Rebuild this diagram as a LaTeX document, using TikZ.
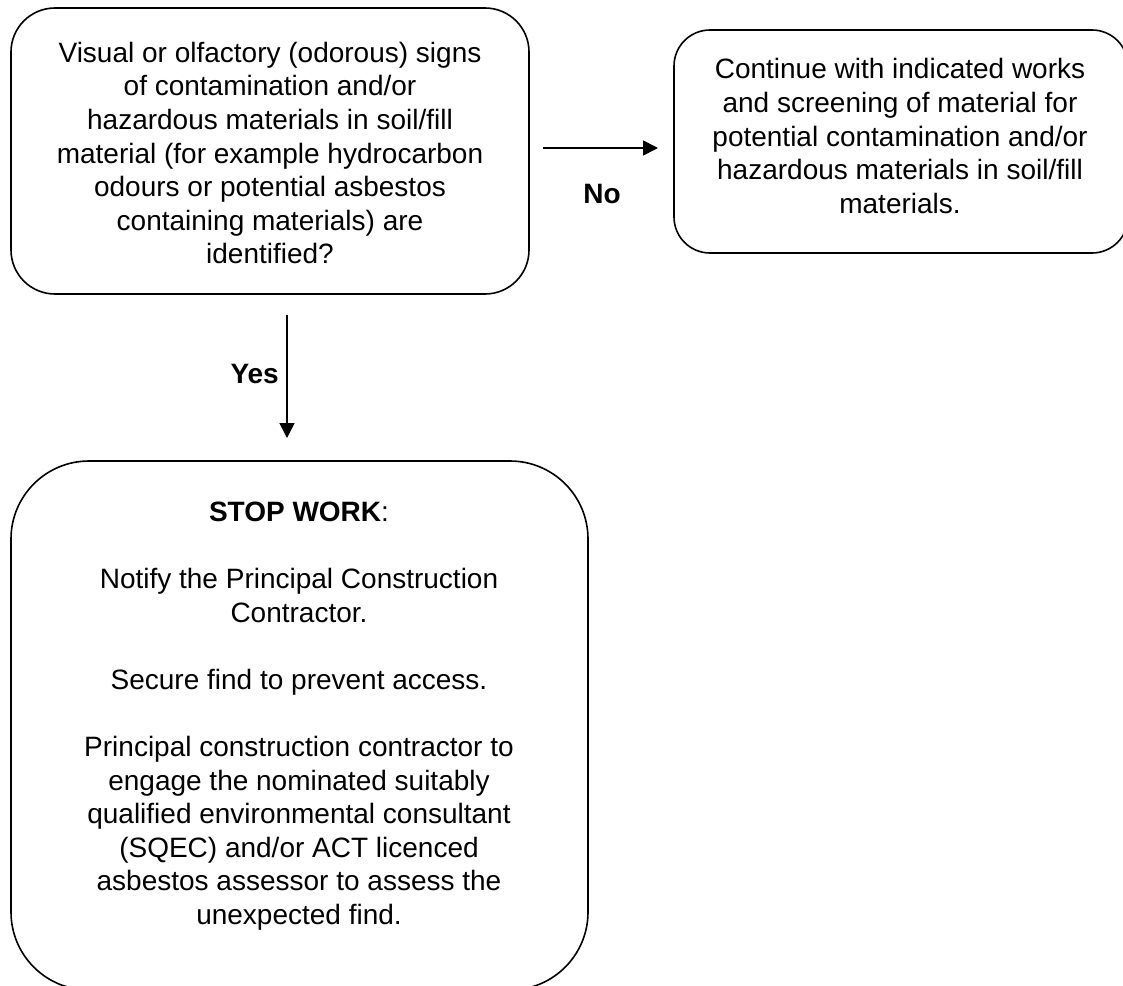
\documentclass[tikz,border=0pt]{standalone}
\usepackage{fontspec}
\setmainfont{Liberation Sans}
\usetikzlibrary{arrows.meta}
\tikzset{
  box/.style={draw=black, line width=1.6pt, rectangle, inner sep=0pt},
  txt/.style={align=center, inner sep=0pt, font=\fontsize{28}{33.6}\selectfont},
  lbl/.style={inner sep=0pt, font=\fontsize{28}{33.6}\selectfont\bfseries},
  conn/.style={line width=1.6pt, -{Triangle[length=15pt,width=15pt]}}
}
\begin{document}
\begin{tikzpicture}[x=1pt,y=-1pt]
\useasboundingbox (0,0) rectangle (1123,985);
\clip (0,0) rectangle (1123,985);
\fill[white] (0,0) rectangle (1123,985);

\node[box, rounded corners=44pt, minimum width=518pt, minimum height=286pt] (b1) at (270,151) {};
\node[box, rounded corners=36pt, minimum width=454pt, minimum height=223pt] (b2) at (901,141.5) {};
\node[box, rounded corners=78pt, minimum width=577pt, minimum height=529pt] (b3) at (299.5,725.5) {};

\node[txt] (t1) at (270,153) {Visual or olfactory (odorous) signs\\of contamination and/or\\hazardous materials in soil/fill\\material (for example hydrocarbon\\odours or potential asbestos\\containing materials) are\\identified?};
\node[txt] (t2) at (900,136) {Continue with indicated works\\and screening of material for\\potential contamination and/or\\hazardous materials in soil/fill\\materials.};
\node[txt] (t3) at (299,716) {\textbf{STOP WORK}:\\[33.6pt]Notify the Principal Construction\\Contractor.\\[33.6pt]Secure find to prevent access.\\[33.6pt]Principal construction contractor to\\engage the nominated suitably\\qualified environmental consultant\\(SQEC) and/or ACT licenced\\asbestos assessor to assess the\\unexpected find.};

\coordinate (h1) at (543,148);
\coordinate (h2) at (658,148);
\coordinate (v1) at (287,315);
\coordinate (v2) at (287,438);
\draw[conn] (h1) -- (h2);
\draw[conn] (v1) -- (v2);
\node[lbl] (no) at (602,194) {No};
\node[lbl, anchor=east] (yes) at (279,374) {Yes};
\end{tikzpicture}
\end{document}
